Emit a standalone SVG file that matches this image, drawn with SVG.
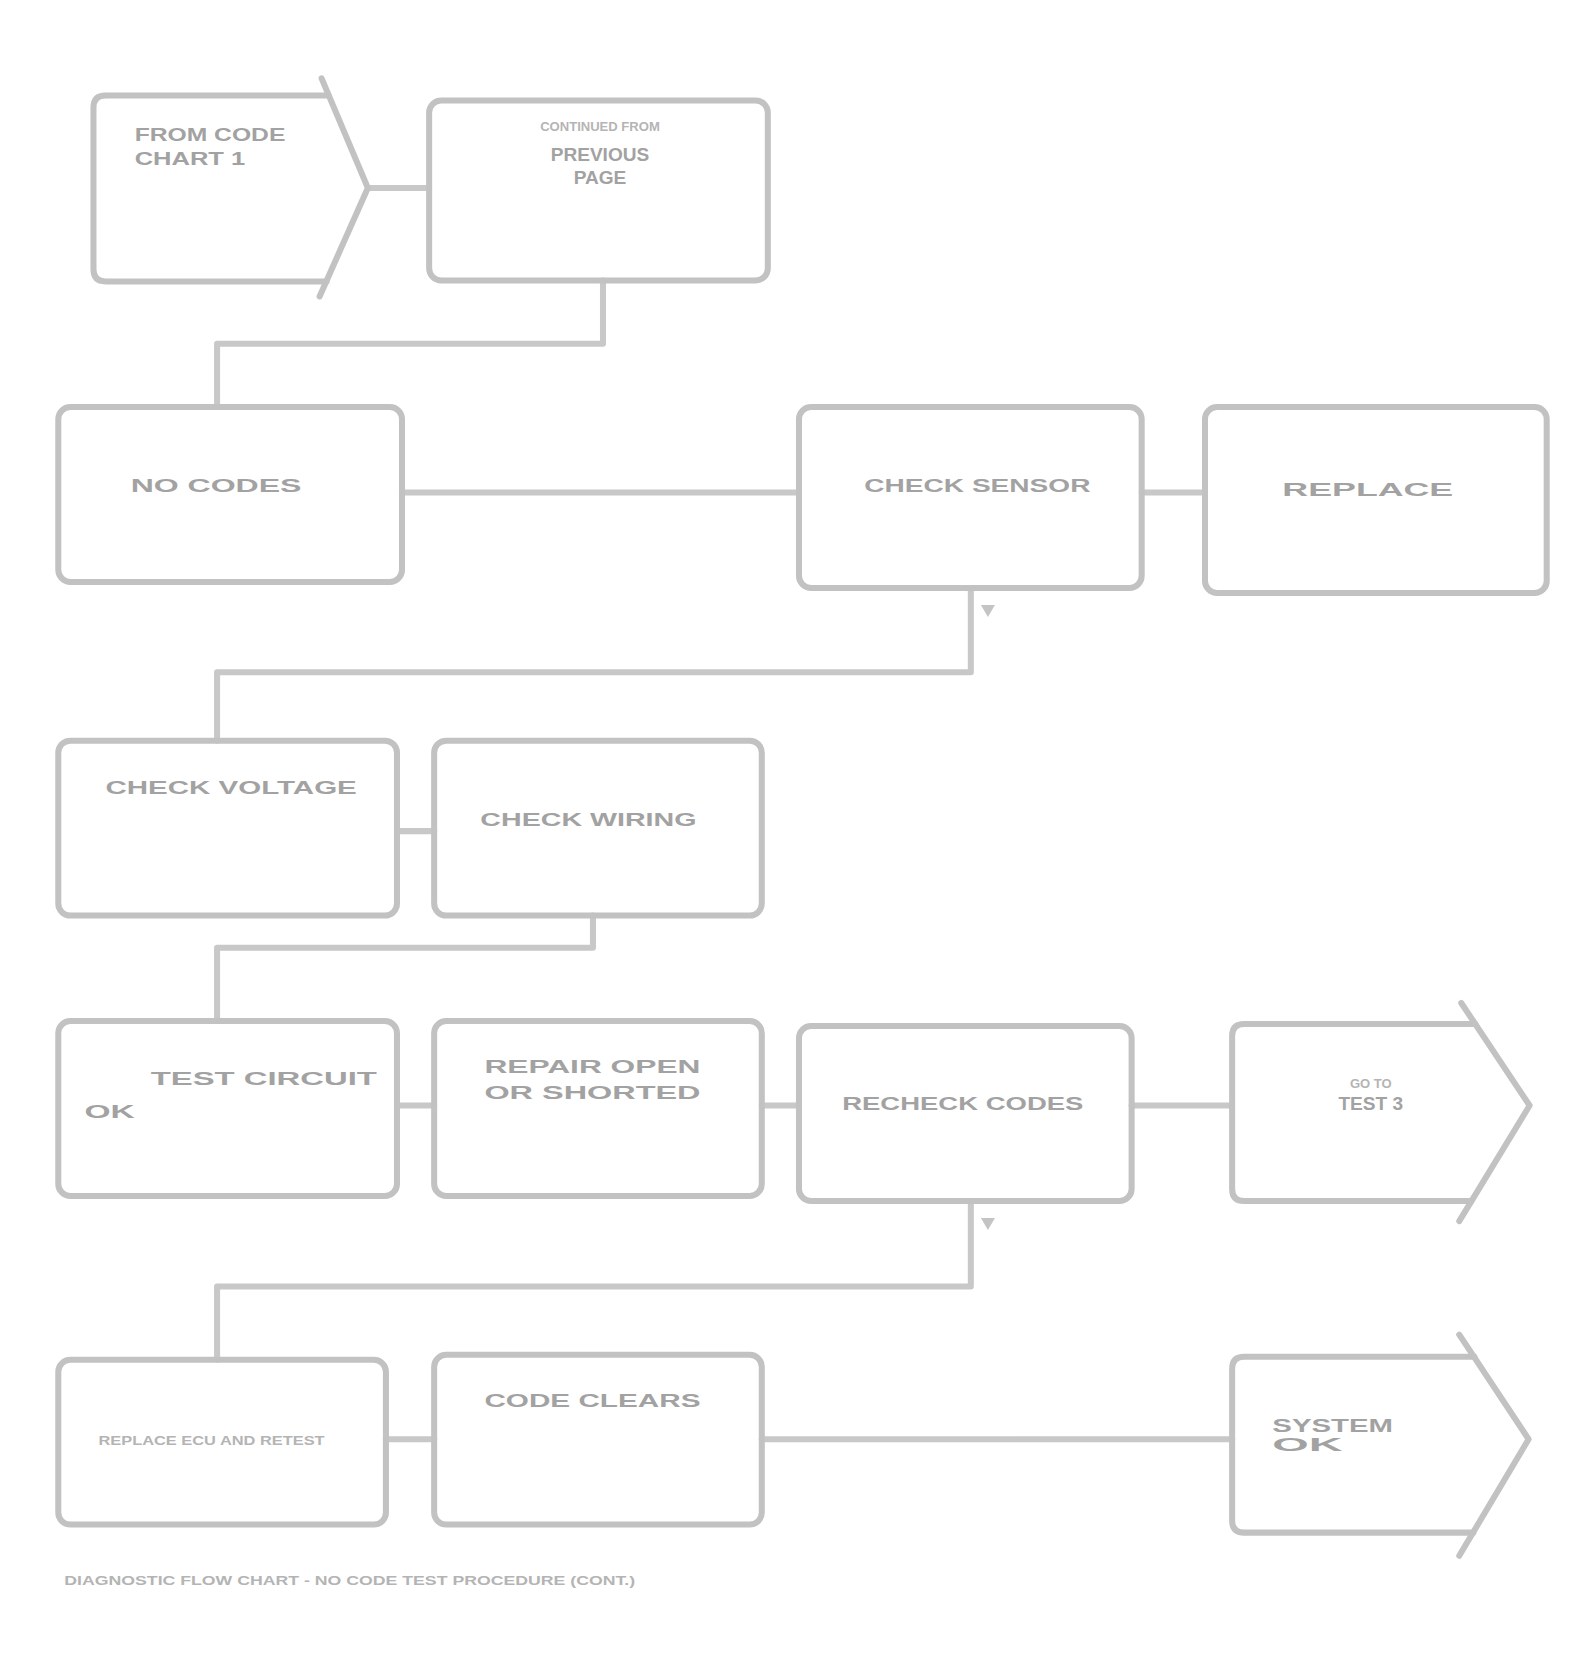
<svg xmlns="http://www.w3.org/2000/svg" width="1580" height="1662" viewBox="0 0 1580 1662">
<style>
.b{fill:none;stroke:#c2c2c2;stroke-width:6;stroke-linejoin:round;stroke-linecap:round}
.c{fill:none;stroke:#c8c8c8;stroke-width:6;stroke-linejoin:round;stroke-linecap:round}
.t{font-family:"Liberation Sans",Arial,sans-serif;font-weight:bold;font-size:19px;fill:#a2a2a2}
.s{font-family:"Liberation Sans",Arial,sans-serif;font-weight:bold;font-size:13px;fill:#b4b4b4}
.m{fill:#c4c4c4}
</style>
<rect width="1580" height="1662" fill="#ffffff"/>
<g transform="scale(1.005)">
<g id="connectors">
<path class="c" d="M366 187 H427"/>
<path class="c" d="M600 279 V342 H216 V405"/>
<path class="c" d="M400 490 H795"/>
<path class="c" d="M1136 490 H1199"/>
<path class="c" d="M966 585 V669 H216 V737"/>
<path class="c" d="M395 827 H432"/>
<path class="c" d="M590 911 V943 H216 V1016"/>
<path class="c" d="M395 1100 H432"/>
<path class="c" d="M758 1100 H795"/>
<path class="c" d="M1126 1100 H1226"/>
<path class="c" d="M966 1195 V1280 H216 V1353"/>
<path class="c" d="M384 1432 H432"/>
<path class="c" d="M758 1432 H1226"/>
<path class="m" d="M976 602 l14 0 l-7 12 z"/>
<path class="m" d="M976 1212 l14 0 l-7 12 z"/>
</g>
<g id="n1">
<path class="b" d="M327 95 H105 Q93 95 93 107 V268 Q93 280 105 280 H325"/>
<path class="b" d="M320 78 L366 187 L318 295"/>
<text class="t" x="134" y="140" textLength="150" lengthAdjust="spacingAndGlyphs">FROM CODE</text>
<text class="t" x="134" y="164" textLength="110" lengthAdjust="spacingAndGlyphs">CHART 1</text>
</g>
<g id="n2">
<rect class="b" x="427" y="100" width="337" height="179" rx="12"/>
<text class="s" x="597" y="130" text-anchor="middle">CONTINUED FROM</text>
<text class="t" x="597" y="160" text-anchor="middle">PREVIOUS</text>
<text class="t" x="597" y="183" text-anchor="middle">PAGE</text>
</g>
<g id="n3">
<rect class="b" x="58" y="405" width="342" height="174" rx="12"/>
<text class="t" x="130" y="490" textLength="170" lengthAdjust="spacingAndGlyphs">NO CODES</text>
</g>
<g id="n4">
<rect class="b" x="795" y="405" width="341" height="180" rx="12"/>
<text class="t" x="860" y="490" textLength="225" lengthAdjust="spacingAndGlyphs">CHECK SENSOR</text>
</g>
<g id="n5">
<rect class="b" x="1199" y="405" width="340" height="185" rx="12"/>
<text class="t" x="1276" y="494" textLength="170" lengthAdjust="spacingAndGlyphs">REPLACE</text>
</g>
<g id="n6">
<rect class="b" x="58" y="737" width="337" height="174" rx="12"/>
<text class="t" x="105" y="790" textLength="250" lengthAdjust="spacingAndGlyphs">CHECK VOLTAGE</text>
</g>
<g id="n7">
<rect class="b" x="432" y="737" width="326" height="174" rx="12"/>
<text class="t" x="478" y="822" textLength="215" lengthAdjust="spacingAndGlyphs">CHECK WIRING</text>
</g>
<g id="n8">
<rect class="b" x="58" y="1016" width="337" height="174" rx="12"/>
<text class="t" x="150" y="1080" textLength="225" lengthAdjust="spacingAndGlyphs">TEST CIRCUIT</text>
<text class="t" x="84" y="1112" textLength="50" lengthAdjust="spacingAndGlyphs">OK</text>
</g>
<g id="n9">
<rect class="b" x="432" y="1016" width="326" height="174" rx="12"/>
<text class="t" x="482" y="1068" textLength="215" lengthAdjust="spacingAndGlyphs">REPAIR OPEN</text>
<text class="t" x="482" y="1094" textLength="215" lengthAdjust="spacingAndGlyphs">OR SHORTED</text>
</g>
<g id="n10">
<rect class="b" x="795" y="1021" width="331" height="174" rx="12"/>
<text class="t" x="838" y="1104" textLength="240" lengthAdjust="spacingAndGlyphs">RECHECK CODES</text>
</g>
<g id="n11">
<path class="b" d="M1468 1019 H1238 Q1226 1019 1226 1031 V1183 Q1226 1195 1238 1195 H1464"/>
<path class="b" d="M1454 998 L1522 1100 L1452 1215"/>
<text class="s" x="1364" y="1083" text-anchor="middle">GO TO</text>
<text class="t" x="1364" y="1104" text-anchor="middle">TEST 3</text>
</g>
<g id="n12">
<rect class="b" x="58" y="1353" width="326" height="164" rx="12"/>
<text class="s" x="98" y="1438" textLength="225" lengthAdjust="spacingAndGlyphs">REPLACE ECU AND RETEST</text>
</g>
<g id="n13">
<rect class="b" x="432" y="1348" width="326" height="169" rx="12"/>
<text class="t" x="482" y="1400" textLength="215" lengthAdjust="spacingAndGlyphs">CODE CLEARS</text>
</g>
<g id="n14">
<path class="b" d="M1467 1350 H1238 Q1226 1350 1226 1362 V1513 Q1226 1525 1238 1525 H1466"/>
<path class="b" d="M1452 1328 L1521 1432 L1452 1548"/>
<text class="t" x="1266" y="1425" textLength="120" lengthAdjust="spacingAndGlyphs">SYSTEM</text>
<text class="t" x="1266" y="1444" textLength="70" lengthAdjust="spacingAndGlyphs">OK</text>
</g>
<text class="s" x="64" y="1577" textLength="568" lengthAdjust="spacingAndGlyphs">DIAGNOSTIC FLOW CHART - NO CODE TEST PROCEDURE (CONT.)</text>
</g>
</svg>
